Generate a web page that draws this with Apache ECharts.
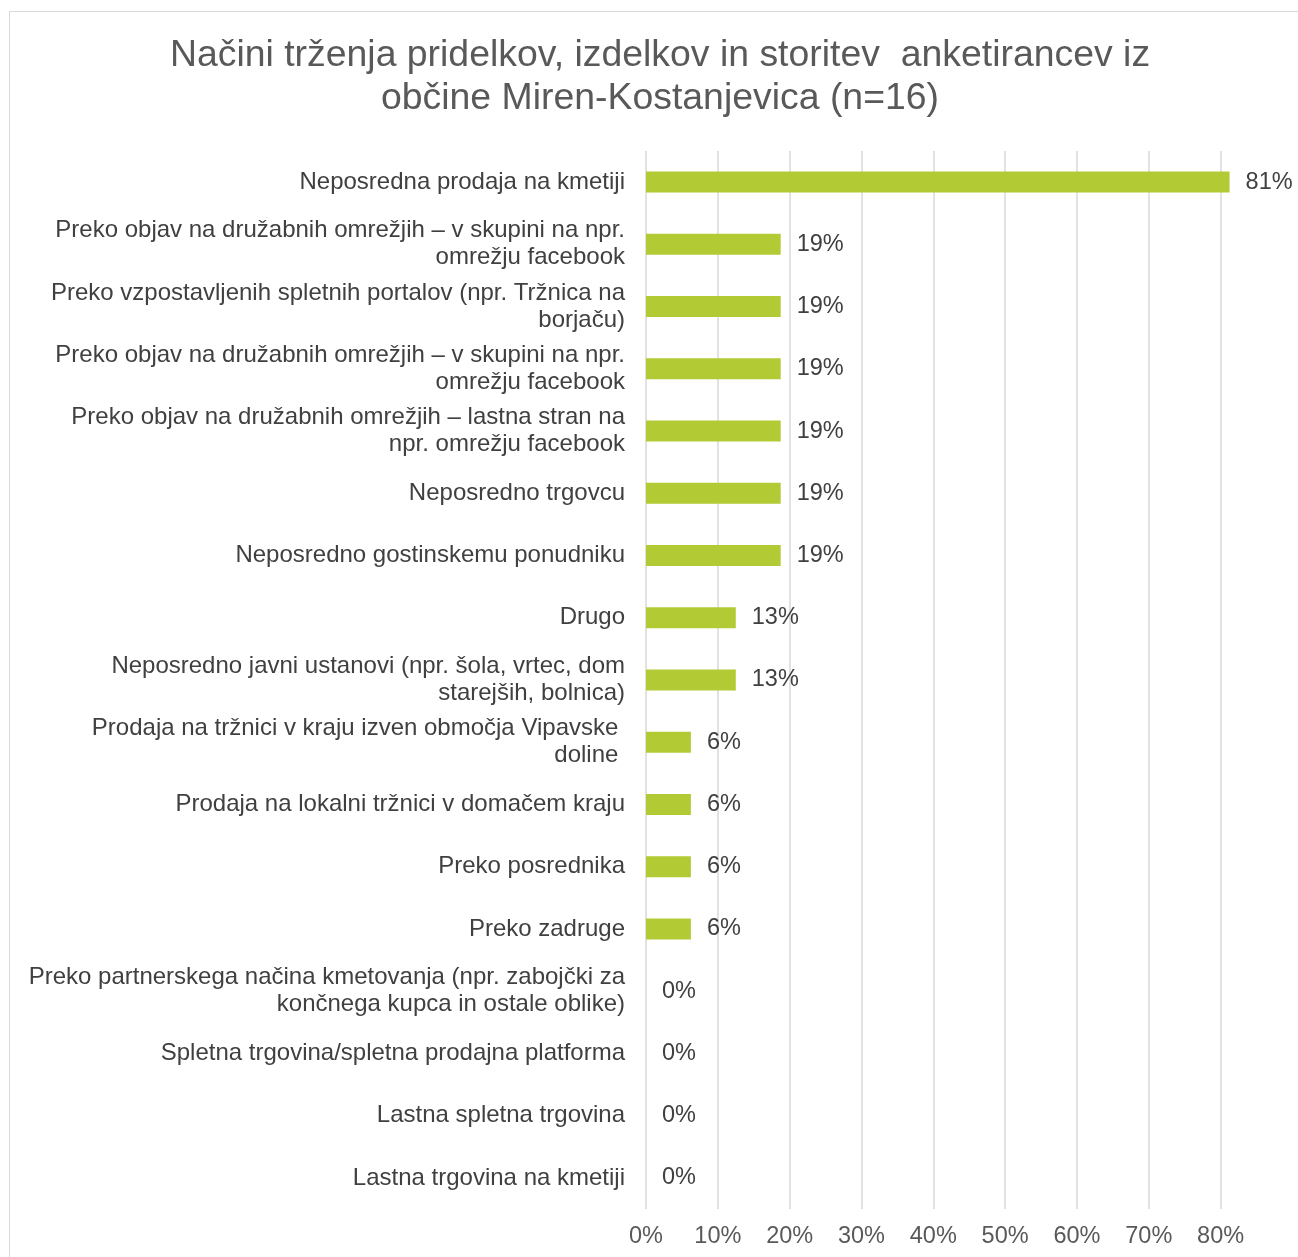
<!DOCTYPE html>
<html>
<head>
<meta charset="utf-8">
<script src="https://cdn.jsdelivr.net/npm/echarts@6/dist/echarts.min.js"></script>
<style>
html,body{margin:0;padding:0;background:#fff;overflow:hidden;}
#frame{position:absolute;left:9px;top:11px;width:1400px;height:1400px;border:1.5px solid #d9d9d9;box-sizing:border-box;}
#chart{position:absolute;left:0;top:0;width:1298px;height:1257px;}
</style>
</head>
<body>
<div id="frame"></div>
<div id="chart"></div>
<script>
const titleText = "Načini trženja pridelkov, izdelkov in storitev  anketirancev iz\nobčine Miren-Kostanjevica (n=16)";
const categories = [
  "Neposredna prodaja na kmetiji",
  "Preko objav na družabnih omrežjih – v skupini na npr.\nomrežju facebook",
  "Preko vzpostavljenih spletnih portalov (npr. Tržnica na\nborjaču)",
  "Preko objav na družabnih omrežjih – v skupini na npr.\nomrežju facebook",
  "Preko objav na družabnih omrežjih – lastna stran na\nnpr. omrežju facebook",
  "Neposredno trgovcu",
  "Neposredno gostinskemu ponudniku",
  "Drugo",
  "Neposredno javni ustanovi (npr. šola, vrtec, dom\nstarejših, bolnica)",
  "Prodaja na tržnici v kraju izven območja Vipavske \ndoline ",
  "Prodaja na lokalni tržnici v domačem kraju",
  "Preko posrednika",
  "Preko zadruge",
  "Preko partnerskega načina kmetovanja (npr. zabojčki za\nkončnega kupca in ostale oblike)",
  "Spletna trgovina/spletna prodajna platforma",
  "Lastna spletna trgovina",
  "Lastna trgovina na kmetiji"
];
const values = [0.8125, 0.1875, 0.1875, 0.1875, 0.1875, 0.1875, 0.1875, 0.125, 0.125, 0.0625, 0.0625, 0.0625, 0.0625, 0, 0, 0, 0];
const xTicks = [0, 0.1, 0.2, 0.3, 0.4, 0.5, 0.6, 0.7, 0.8];

const chart = echarts.init(document.getElementById('chart'), null, {renderer: 'canvas'});
const FONT = 'Liberation Sans, Arial, sans-serif';
chart.setOption({
  animation: false,
  backgroundColor: 'transparent',
  title: {
    text: titleText,
    left: 655,
    top: 29,
    textAlign: 'center',
    textStyle: {fontFamily: FONT, fontSize: 37.4, fontWeight: 'normal', color: '#595959', lineHeight: 43}
  },
  grid: {left: 646, right: 77.4, top: 151, bottom: 48, containLabel: false},
  xAxis: {
    type: 'value',
    min: xTicks[0],
    max: xTicks[xTicks.length - 1],
    interval: 0.1,
    axisLine: {show: false},
    axisTick: {show: false},
    splitLine: {show: true, lineStyle: {color: '#d9d9d9', width: 1.5}},
    axisLabel: {
      margin: 16,
      fontFamily: FONT, fontSize: 23.5, color: '#595959',
      formatter: v => Math.round(v * 100) + '%'
    }
  },
  yAxis: {
    type: 'category',
    inverse: true,
    data: categories,
    axisLine: {show: false},
    axisTick: {show: false},
    axisLabel: {
      margin: 21,
      fontFamily: FONT, fontSize: 24, color: '#404040', lineHeight: 27, align: 'right'
    }
  },
  series: [{
    type: 'bar',
    data: values,
    barWidth: 21,
    clip: false,
    itemStyle: {color: '#B2CB35'},
    label: {
      show: true,
      position: 'right',
      distance: 16,
      fontFamily: FONT, fontSize: 23.5, color: '#404040',
      formatter: p => Math.round(p.value * 100) + '%'
    }
  }]
});
</script>
</body>
</html>
